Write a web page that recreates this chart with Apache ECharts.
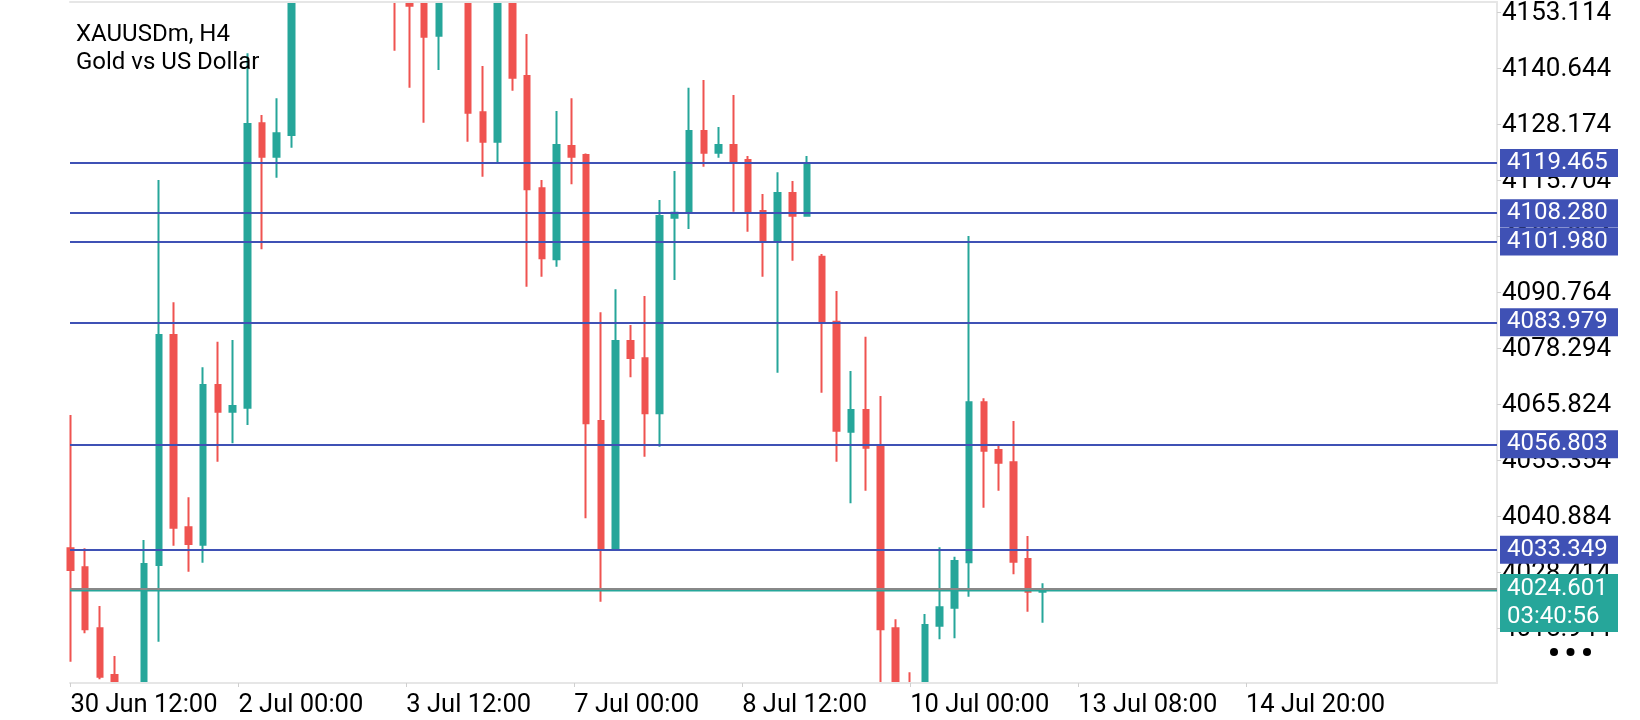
<!DOCTYPE html>
<html><head><meta charset="utf-8">
<script src="https://cdn.jsdelivr.net/npm/echarts@6/dist/echarts.min.js"></script>
<style>html,body{margin:0;padding:0;background:#fff}#c{width:1640px;height:720px}</style>
</head><body><div id="c"></div>
<script>
// H4 candles, one per slot (slot 0 = first visible bar)
const openP  = [4033.66,4029.43,4015.85,4005.44,3998.00,3996.00,4029.94,4081.16,4038.34,4034.46,
                4070.03,4064.08,4064.97,4128.30,4120.87,4125.70,4162.00,4171.00,4166.00,4175.00,
                4170.00,4168.00,4172.00,4158.00,4155.80,4147.81,4158.00,4163.00,4130.75,4124.21,
                4157.50,4138.84,4113.83,4098.02,4123.25,4121.25,4062.01,4033.43,4079.82,4075.97,
                4063.72,4107.28,4108.40,4126.59,4121.76,4123.47,4120.13,4108.77,4102.16,4112.78,
                4107.73,4098.60,4084.12,4059.62,4064.46,4056.44,4015.85,4001.00,3999.00,4016.42,
                4020.43,4030.54,4066.17,4055.55,4052.81,4031.28,4023.99];
const closeP = [4028.83,4015.62,4005.07,3998.00,3994.50,4030.16,4081.16,4038.25,4034.62,4070.03,
                4064.08,4065.35,4128.15,4120.87,4126.08,4162.00,4171.00,4166.00,4175.00,4170.00,
                4168.00,4172.00,4158.00,4154.49,4147.59,4158.00,4163.00,4130.66,4124.21,4158.00,
                4138.46,4113.60,4098.24,4123.47,4120.87,4061.50,4033.43,4079.82,4076.04,4063.72,
                4107.66,4108.40,4126.59,4121.76,4123.47,4119.62,4108.55,4102.16,4112.78,4107.73,
                4119.40,4084.12,4059.85,4064.46,4056.06,4015.62,4001.50,3997.50,4016.58,4020.52,
                4030.83,4066.17,4055.39,4052.72,4030.67,4023.99,4024.60];
const lowP   = [4008.41,4014.73,4004.50,3993.00,3988.00,3990.50,4012.86,4034.24,4028.45,4030.45,
                4052.95,4057.04,4061.12,4100.24,4116.19,4122.87,4158.00,4161.00,4163.00,4165.00,
                4160.00,4162.00,4144.47,4136.23,4128.44,4140.18,4156.00,4124.21,4116.41,4119.62,
                4135.56,4091.92,4094.14,4096.37,4114.72,4040.34,4021.77,4033.30,4071.74,4054.06,
                4056.28,4093.41,4104.77,4118.64,4120.64,4108.62,4104.16,4094.14,4072.76,4097.70,
                4107.50,4068.31,4052.95,4043.68,4046.49,4001.00,3996.00,3993.00,3995.00,4013.39,
                4013.62,4022.88,4042.70,4046.49,4027.87,4019.54,4017.09];
const highP  = [4063.35,4033.66,4020.81,4009.68,4001.50,4035.51,4115.68,4088.44,4045.01,4073.97,
                4079.67,4080.04,4143.89,4130.15,4133.87,4168.00,4176.00,4178.00,4182.00,4179.00,
                4174.00,4177.00,4175.00,4162.00,4157.20,4161.00,4166.00,4166.50,4141.07,4162.00,
                4160.00,4148.19,4115.68,4131.04,4133.87,4121.60,4086.21,4091.34,4083.39,4089.84,
                4111.22,4117.68,4136.23,4137.95,4127.48,4134.60,4121.02,4112.56,4117.39,4115.45,
                4121.02,4099.20,4090.96,4073.14,4080.78,4067.58,4017.85,4006.05,4019.03,4033.88,
                4031.79,4103.21,4067.06,4056.44,4062.01,4036.40,4025.86];

const levelLines   = [4119.465, 4108.280, 4101.980, 4083.979, 4056.803, 4033.349];
const currentPrice = 4024.601;
const countdown    = '03:40:56';
const priceTicks   = [4015.944, 4028.414, 4040.884, 4053.354, 4065.824, 4078.294,
                      4090.764, 4103.234, 4115.704, 4128.174, 4140.644, 4153.114];
const timeLabels   = ['30 Jun 12:00','2 Jul 00:00','3 Jul 12:00','7 Jul 00:00',
                      '8 Jul 12:00','10 Jul 00:00','13 Jul 08:00','14 Jul 20:00'];
const timeLabelSlots = [0, 11.4, 22.8, 34.2, 45.6, 57.0, 68.4, 79.8];

const candles = openP.map((o, i) => [i, o, closeP[i], lowP[i], highP[i]]);

const X_MIN = -0.034, X_MAX = 96.84;
const Y_MIN = 4003.66, Y_MAX = 4155.32;
const FONT = 'Roboto';
const BORDER = '#e6e6e6';

const chart = echarts.init(document.getElementById('c'), null, {renderer: 'canvas'});
chart.setOption({
  animation: false,
  backgroundColor: '#ffffff',
  title: {
    text: 'XAUUSDm, H4\nGold vs US Dollar',
    left: 76, top: 21, padding: 0,
    textStyle: {fontSize: 24, lineHeight: 28, fontWeight: 'normal', color: '#000', fontFamily: FONT}
  },
  grid: {left: 70, right: 143, top: 2, bottom: 37, containLabel: false},
  xAxis: [{
    type: 'value', min: X_MIN, max: X_MAX, z: 10,
    axisLine: {show: true, onZero: false, lineStyle: {color: BORDER, width: 2}},
    axisTick: {show: true, length: 4, lineStyle: {color: '#cfcfcf'}, customValues: timeLabelSlots},
    axisLabel: {
      customValues: timeLabelSlots, align: 'left', margin: 10,
      fontSize: 25.5, color: '#000', fontFamily: FONT,
      formatter: v => {
        let k = 0, best = 1e9;
        timeLabelSlots.forEach((s, j) => { const d = Math.abs(s - v); if (d < best) { best = d; k = j; } });
        return timeLabels[k];
      }
    },
    splitLine: {show: false}
  }, {
    type: 'value', position: 'top', min: X_MIN, max: X_MAX, z: 10,
    axisLine: {show: true, onZero: false, lineStyle: {color: BORDER, width: 2}},
    axisTick: {show: false}, axisLabel: {show: false}, splitLine: {show: false}
  }],
  yAxis: {
    type: 'value', position: 'right', min: Y_MIN, max: Y_MAX, z: 1,
    axisLine: {show: true, onZero: false, lineStyle: {color: BORDER, width: 2}},
    axisTick: {show: true, length: 4, lineStyle: {color: '#cfcfcf'}, customValues: priceTicks},
    axisLabel: {
      customValues: priceTicks, formatter: v => v.toFixed(3),
      fontSize: 26, color: '#000', fontFamily: FONT, margin: 5, align: 'left',
      verticalAlign: 'top', lineHeight: 4
    },
    splitLine: {show: false}
  },
  series: [{
    type: 'candlestick',
    xAxisIndex: 0,
    data: candles,
    encode: {x: 0, y: [1, 2, 3, 4]},
    barWidth: 6,
    clip: true,
    itemStyle: {
      color: '#26a69a', color0: '#ef5350',
      borderColor: '#26a69a', borderColor0: '#ef5350', borderWidth: 2
    },
    markLine: {
      symbol: ['none', 'none'], silent: true, animation: false, precision: 3,
      lineStyle: {color: '#3f51b5', width: 2, type: 'solid'},
      label: {
        show: true, position: 'end', distance: 3,
        formatter: p => Number(p.value).toFixed(3),
        color: '#fff', backgroundColor: '#3f51b5',
        fontSize: 24, fontFamily: FONT, lineHeight: 26,
        padding: [2, 7, 0, 7], width: 104
      },
      data: levelLines.map(v => ({yAxis: v})).concat([{
        yAxis: currentPrice,
        lineStyle: {color: '#888888', width: 2, type: 'solid',
                    shadowColor: '#26a69a', shadowOffsetY: 1.5, shadowBlur: 0},
        label: {
          formatter: currentPrice.toFixed(3) + '\n' + countdown,
          backgroundColor: '#26a69a', lineHeight: 28,
          padding: [2, 7, 0, 7], offset: [0, 14]
        }
      }])
    }
  }],
  graphic: [
    // white masks outside the plot so partly off-scale candles look clipped
    {type: 'rect', z: 5, shape: {x: 0, y: 684, width: 1497, height: 36}, style: {fill: '#fff'}},
    {type: 'rect', z: 5, shape: {x: 0, y: 0, width: 1497, height: 2}, style: {fill: '#fff'}},
    {type: 'circle', z: 6, shape: {cx: 1554, cy: 652, r: 4}, style: {fill: '#000'}},
    {type: 'circle', z: 6, shape: {cx: 1570.5, cy: 652, r: 4}, style: {fill: '#000'}},
    {type: 'circle', z: 6, shape: {cx: 1587, cy: 652, r: 4}, style: {fill: '#000'}}
  ]
});
</script></body></html>
